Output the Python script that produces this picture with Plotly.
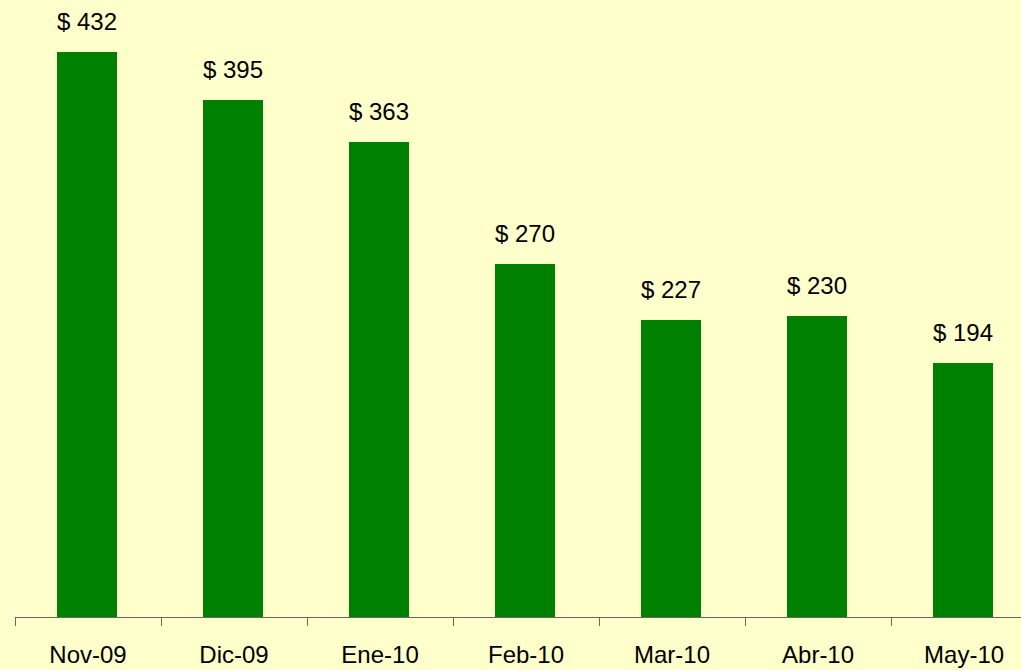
import plotly.graph_objects as go

categories = ["Nov-09", "Dic-09", "Ene-10", "Feb-10", "Mar-10", "Abr-10", "May-10"]
values = [432, 395, 363, 270, 227, 230, 194]
labels = ["$ %d" % v for v in values]

fig = go.Figure()
fig.add_trace(go.Bar(
    x=categories, y=values, marker=dict(color="#008000", line=dict(width=0)),
    width=0.41, offset=-0.212, hoverinfo="skip",
))
for c, v, t in zip(categories, values, labels):
    fig.add_annotation(x=c, y=v, text=t, showarrow=False, yanchor="bottom",
                       yshift=15, xshift=-1,
                       font=dict(family="Liberation Sans, Arial", size=24, color="black"))

fig.update_layout(
    width=1021, height=670,
    margin=dict(l=15, r=0, t=0, b=53),
    paper_bgcolor="#FFFFCC", plot_bgcolor="#FFFFCC",
    showlegend=False,
    bargap=0,
    xaxis=dict(
        type="category", range=[-0.5, 6.39],
        showline=True, linecolor="#666666", linewidth=1,
        ticks="outside", tickson="boundaries", ticklen=8, tickcolor="#666666", tickwidth=1,
        tickfont=dict(family="Liberation Sans, Arial", size=24, color="black"),
        showgrid=False, zeroline=False, ticklabelstandoff=16,
    ),
    yaxis=dict(range=[0, 471.7], visible=False, showgrid=False, zeroline=False),
)
fig.write_html("out.html", config={"displayModeBar": False, "staticPlot": True},
               post_script="document.body.style.margin='0';document.body.style.overflow='hidden';")
